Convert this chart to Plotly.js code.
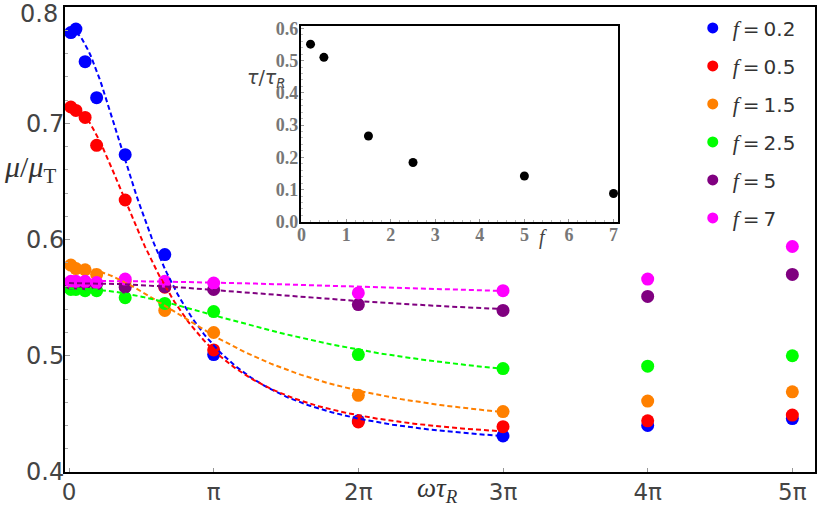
<!DOCTYPE html>
<html>
<head>
<meta charset="utf-8">
<script src="https://cdn.plot.ly/plotly-3.0.1.min.js"></script>
<style>html,body{margin:0;padding:0;background:#fff;}#chart{width:817px;height:506px;}</style>
</head>
<body>
<div id="chart"></div>
<script>
// ---- data ----
const PI = Math.PI;
const omega = [0.04, 0.15, 0.35, 0.6, 1.22, 2.08, PI, 2*PI, 3*PI, 4*PI, 5*PI];
const labels = ['0.2', '0.5', '1.5', '2.5', '5', '7'];
const colors = ['#0000ff', '#ff0000', '#ff8000', '#00ff00', '#800080', '#ff00ff'];
const muBlue    = [0.778, 0.781, 0.753, 0.722, 0.673, 0.587, 0.501, 0.444, 0.431, 0.440, 0.446];
const muRed     = [0.714, 0.711, 0.705, 0.681, 0.634, 0.559, 0.505, 0.443, 0.439, 0.444, 0.449];
const muOrange  = [0.578, 0.575, 0.574, 0.570, 0.564, 0.539, 0.520, 0.466, 0.452, 0.461, 0.469];
const muGreen   = [0.557, 0.557, 0.556, 0.556, 0.550, 0.545, 0.538, 0.501, 0.489, 0.491, 0.500];
const muPurple  = [0.5625, 0.5625, 0.562, 0.562, 0.559, 0.5595, 0.557, 0.544, 0.539, 0.551, 0.570];
const muMagenta = [0.564, 0.564, 0.564, 0.563, 0.566, 0.564, 0.5625, 0.554, 0.556, 0.566, 0.594];
const series = [muBlue, muRed, muOrange, muGreen, muPurple, muMagenta];

// y tick labels of the main plot
const yTickVals = [0.4, 0.5, 0.6, 0.7];
const yTopLabel = '0.8';

// inset: relaxation time vs f
const fVals = [0.2, 0.5, 1.5, 2.5, 5, 7];
const tauVals = [0.551, 0.510, 0.266, 0.184, 0.142, 0.088];

// Debye fit parameters: mu(w) = muInf + (mu0-muInf)/(1+(w tau)^2)
const fitMu0   = [0.781, 0.715, 0.577, 0.558, 0.5625, 0.5645];
const fitMuInf = [0.418, 0.4228, 0.4316, 0.4658, 0.5276, 0.543];

// ---- build traces ----
const traces = [];
series.forEach((ys, i) => {
  traces.push({x: omega, y: ys, type: 'scatter', mode: 'markers',
    marker: {color: colors[i], size: 13}, showlegend: false, hoverinfo: 'skip'});
});
series.forEach((ys, i) => {
  const fx = [], fy = [];
  const n = 200;
  for (let k = 0; k <= n; k++) {
    const w = 3*PI*k/n;
    fx.push(w);
    const wt = w*tauVals[i];
    fy.push(fitMuInf[i] + (fitMu0[i]-fitMuInf[i])/(1+wt*wt));
  }
  traces.push({x: fx, y: fy, type: 'scatter', mode: 'lines',
    line: {color: colors[i], width: 2, dash: '5px,3px'}, showlegend: false, hoverinfo: 'skip'});
});
labels.forEach((lb, i) => {
  traces.push({x: [null], y: [null], type: 'scatter', mode: 'markers',
    marker: {color: colors[i], size: 11},
    name: '<span style="font-family:\'Liberation Serif\';font-size:22px"><i>f</i></span>\u2009=\u2009' + lb,
    legendgroup: 'g' + i});
});
traces.push({x: fVals, y: tauVals, xaxis: 'x2', yaxis: 'y2', type: 'scatter', mode: 'markers',
  marker: {color: '#000', size: 9}, showlegend: false, hoverinfo: 'skip'});

const serif = 'Liberation Serif, DejaVu Serif, serif';
const layout = {
  width: 817, height: 506,
  margin: {l: 65, r: 2, t: 7, b: 34, autoexpand: false},
  paper_bgcolor: '#fff', plot_bgcolor: '#fff',
  font: {family: 'DejaVu Sans, sans-serif', color: '#444', size: 22},
  showlegend: true,
  legend: {x: 0.981, y: 0.997, xanchor: 'right', yanchor: 'top', bgcolor: 'rgba(0,0,0,0)',
    font: {size: 20, color: '#333'}, tracegroupgap: 9, itemwidth: 30},
  xaxis: {range: [-0.087, 16.2], showgrid: false, zeroline: false,
    showline: true, linecolor: '#000', linewidth: 2, mirror: true,
    tickvals: [0, PI, 2*PI, 3*PI, 4*PI, 5*PI], ticktext: ['0', 'π', '2π', '3π', '4π', '5π'],
    ticks: 'inside', ticklen: 4, tickcolor: '#999', tickfont: {size: 23, color: '#444'},
    ticklabelstandoff: -2},
  yaxis: {range: [0.4, 0.8], showgrid: false, zeroline: false,
    showline: true, linecolor: '#000', linewidth: 2, mirror: true,
    tickvals: yTickVals, ticktext: yTickVals.map(v => v.toFixed(1)),
    ticks: 'inside', ticklen: 5, tickcolor: '#999', tickfont: {size: 24, color: '#444'},
    ticklabelstandoff: -6,
    minor: {dtick: 0.02, ticks: 'inside', ticklen: 3, tickcolor: '#aaa'}},
  xaxis2: {domain: [0.3143, 0.7373], anchor: 'y2', range: [-0.02, 7.1],
    showgrid: false, zeroline: false, showline: true, linecolor: '#000', linewidth: 2, mirror: true,
    dtick: 1, tick0: 0, ticks: 'inside', ticklen: 3, tickcolor: '#999',
    tickfont: {family: serif, size: 18, color: '#777', weight: 'bold'}, ticklabelstandoff: -4,
    minor: {dtick: 0.2, ticks: 'inside', ticklen: 2, tickcolor: '#bbb'}},
  yaxis2: {domain: [0.538, 0.959], anchor: 'x2', range: [0, 0.607],
    showgrid: false, zeroline: false, showline: true, linecolor: '#000', linewidth: 2, mirror: true,
    dtick: 0.1, tick0: 0, tickformat: '.1f', ticks: 'inside', ticklen: 3, tickcolor: '#999',
    tickfont: {family: serif, size: 18, color: '#777', weight: 'bold'}, ticklabelstandoff: -3,
    minor: {dtick: 0.02, ticks: 'inside', ticklen: 2, tickcolor: '#bbb'}},
  annotations: [
    {xref: 'paper', yref: 'paper', x: -0.0067, y: 1, xanchor: 'right', yanchor: 'middle', yshift: -7,
     text: yTopLabel, showarrow: false, font: {size: 24, color: '#444'}},
    {xref: 'paper', yref: 'paper', x: -0.047, y: 0.652, xanchor: 'center', yanchor: 'middle',
     text: '<i>μ</i>/<i>μ</i><sub>T</sub>', showarrow: false, font: {family: serif, size: 30, color: '#333'}},
    {xref: 'paper', yref: 'paper', x: 0.496, y: -0.039, xanchor: 'center', yanchor: 'middle',
     text: '<i>ωτ</i><sub><i>R</i></sub>', showarrow: false, font: {family: serif, size: 27, color: '#333'}},
    {xref: 'paper', yref: 'paper', x: 0.2693, y: 0.847, xanchor: 'center', yanchor: 'middle',
     text: '<i>τ</i>/<i>τ</i><sub><i>R</i></sub>', showarrow: false, font: {family: 'DejaVu Sans', size: 19, color: '#444'}},
    {xref: 'paper', yref: 'paper', x: 0.637, y: 0.533, xanchor: 'center', yanchor: 'top',
     text: '<i>f</i>', showarrow: false, font: {family: serif, size: 20, color: '#444'}}
  ]
};
Plotly.newPlot('chart', traces, layout, {displayModeBar: false, staticPlot: true});
</script>
</body>
</html>
